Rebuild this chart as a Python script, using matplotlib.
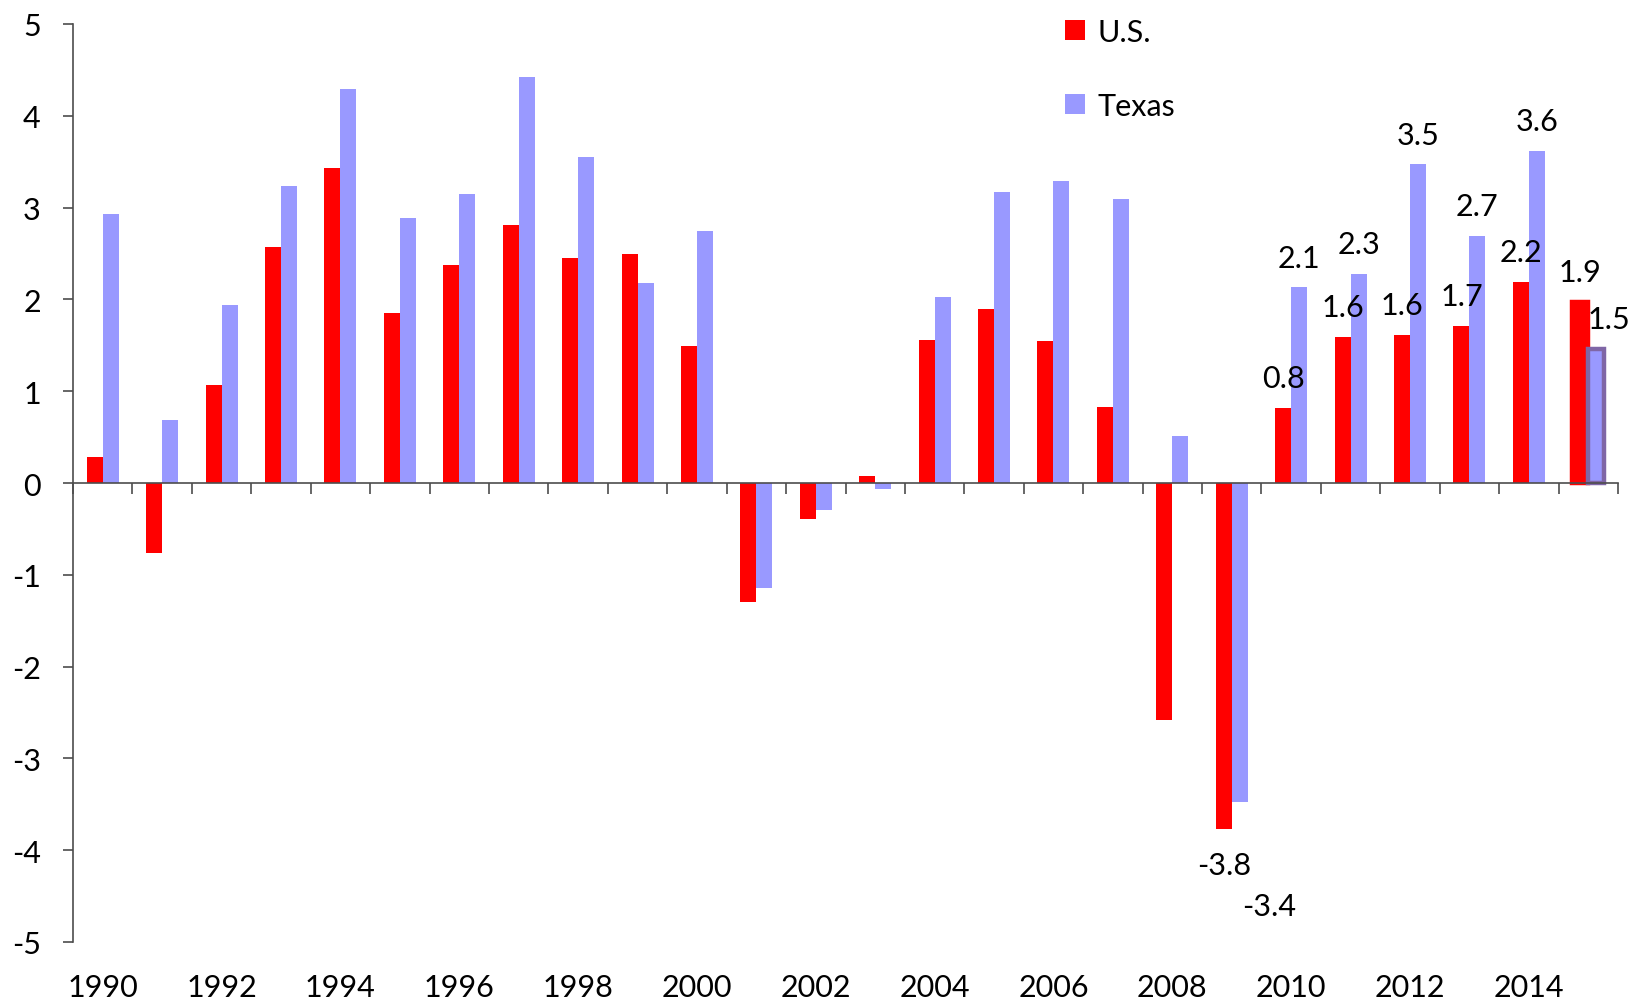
import matplotlib
matplotlib.use('Agg')
import matplotlib.pyplot as plt
import matplotlib.transforms as mtransforms
import numpy as np

plt.rcParams['font.family'] = ['Lato', 'DejaVu Sans']
plt.rcParams['axes.unicode_minus'] = False

# 연도별 고용 증가율 (U.S. vs Texas)
years = list(range(1990, 2016))
us = [0.28, -0.76, 1.07, 2.57, 3.43, 1.85, 2.38, 2.81, 2.45, 2.49, 1.49, -1.30, -0.39,
      0.08, 1.56, 1.89, 1.55, 0.83, -2.58, -3.77, 0.82, 1.59, 1.61, 1.71, 2.19, 1.97]
texas = [2.93, 0.69, 1.94, 3.24, 4.29, 2.89, 3.15, 4.42, 3.55, 2.18, 2.74, -1.14, -0.29,
         -0.07, 2.03, 3.17, 3.29, 3.09, 0.51, -3.48, 2.13, 2.28, 3.47, 2.69, 3.62, 1.46]
tick_years = [1990, 1992, 1994, 1996, 1998, 2000, 2002, 2004, 2006, 2008, 2010, 2012, 2014]

# 데이터 레이블 (2009~2015)
label_years = [2009, 2010, 2011, 2012, 2013, 2014, 2015]
us_text = ['-3.8', '0.8', '1.6', '1.6', '1.7', '2.2', '1.9']
tx_text = ['-3.4', '2.1', '2.3', '3.5', '2.7', '3.6', '1.5']

fs = 22

fig = plt.figure(figsize=(16.34, 10.04), dpi=100)
ax = fig.add_axes([73 / 1634, 1 - 943 / 1004, 1545 / 1634, 918 / 1004])

x = np.arange(len(years)) + 0.5
w = 0.269
b1 = ax.bar(x - w / 2, us, w, color='#FF0000', label='U.S.', linewidth=0)
b2 = ax.bar(x + w / 2, texas, w, color='#9999FF', label='Texas', linewidth=0)
# 마지막 막대 강조 테두리
b1[-1].set_edgecolor('#FF0000')
b1[-1].set_linewidth(3.2)
b2[-1].set_edgecolor('#7F66A6')
b2[-1].set_linewidth(3.2)

ax.set_xlim(0, len(years))
ax.set_ylim(-5, 5)
ax.set_yticks(range(-5, 6))

axis_col = '#4d4d4d'
for s in ['top', 'right']:
    ax.spines[s].set_visible(False)
ax.spines['bottom'].set_position(('data', 0))
ax.spines['bottom'].set_color(axis_col)
ax.spines['left'].set_color(axis_col)
ax.spines['bottom'].set_linewidth(1.2)
ax.spines['left'].set_linewidth(1.2)

ax.set_xticks(np.arange(0, len(years) + 1))
ax.set_xticklabels([])
ax.tick_params(axis='x', direction='out', length=8, width=1.2, color=axis_col)
ax.tick_params(axis='y', direction='out', length=7.2, width=1.2, color=axis_col,
               pad=16, labelsize=fs)

# x축 레이블은 그래프 맨 아래에
trans = mtransforms.blended_transform_factory(ax.transData, fig.transFigure)
for yr in tick_years:
    ax.text(years.index(yr) + 0.5, 1 - 997 / 1004, str(yr), transform=trans,
            ha='center', va='baseline', fontsize=fs)

# 데이터 레이블
for i, yr in enumerate(label_years):
    k = years.index(yr)
    for vals, txt, dx_bar in [(us, us_text, -w / 2), (texas, tx_text, w / 2)]:
        v = vals[k]
        off = (0, 15) if v >= 0 else (0, -32)
        if txt is tx_text and yr == 2009:
            off = (21, -81)
        if txt is tx_text and yr == 2015:
            off = (9, 15)
        ax.annotate(txt[i], (x[k] + dx_bar, v), xytext=off, textcoords='offset points',
                    ha='center', va='baseline', fontsize=fs)

ax.legend(loc='upper left', bbox_to_anchor=(1065 / 1634, 1 - 19 / 1004),
          bbox_transform=fig.transFigure, frameon=False, fontsize=fs,
          handlelength=0.65, handleheight=0.65, handletextpad=0.4,
          labelspacing=1.5, borderpad=0, borderaxespad=0)

fig.savefig('out.png', dpi=100)
